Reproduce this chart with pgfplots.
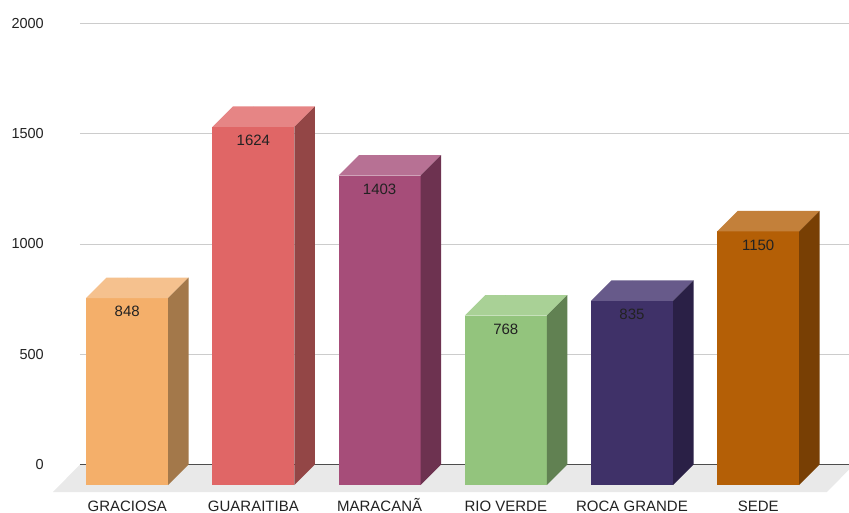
\documentclass[border=0pt]{standalone}
\usepackage{fontspec}
\setmainfont{Liberation Sans}
\usepackage{pgfplots}
\pgfplotsset{compat=1.18}
\usepackage{pgfplotstable}

% front / top / side colours
\definecolor{f0}{HTML}{F4AF6A}\definecolor{t0}{HTML}{F5C18E}\definecolor{s0}{HTML}{A3784A}
\definecolor{f1}{HTML}{E06666}\definecolor{t1}{HTML}{E68585}\definecolor{s1}{HTML}{934646}
\definecolor{f2}{HTML}{A64D79}\definecolor{t2}{HTML}{B77194}\definecolor{s2}{HTML}{6D3250}
\definecolor{f3}{HTML}{93C47D}\definecolor{t3}{HTML}{A9D196}\definecolor{s3}{HTML}{618152}
\definecolor{f4}{HTML}{3F3168}\definecolor{t4}{HTML}{675A8A}\definecolor{s4}{HTML}{2A2046}
\definecolor{f5}{HTML}{B45F06}\definecolor{t5}{HTML}{C3803A}\definecolor{s5}{HTML}{783F04}
\definecolor{floorc}{HTML}{E9E9E9}
\definecolor{gridc}{HTML}{CCCCCC}
\definecolor{zeroc}{HTML}{4D4D4D}
\definecolor{txt}{HTML}{222222}

\pgfplotstableread{
idx value
0 848
1 1624
2 1403
3 768
4 835
5 1150
}\bardata

\begin{document}
\begin{tikzpicture}
\begin{axis}[
  at={(0,0)}, anchor=south west,
  x=126.2bp, y=0.2205bp,
  xmin=-0.374, xmax=5.759, ymin=0, ymax=2000,
  clip=false,
  axis line style={draw=none},
  major tick length=0pt,
  ytick={0,500,1000,1500,2000},
  ymajorgrids, grid style={color=gridc, line width=0.9bp},
  xtick={0,1,2,3,4,5},
  xticklabels={GRACIOSA,GUARAITIBA,MARACANÃ,RIO VERDE,ROCA GRANDE,SEDE},
  x tick label style={anchor=base, yshift=-46.5bp, text=txt, font=\fontsize{15bp}{18bp}\selectfont},
  y tick label style={anchor=east, inner sep=0pt, xshift=-36bp, text=txt, font=\fontsize{14.5bp}{17bp}\selectfont},
  /pgf/number format/assume math mode=true,
  /pgf/number format/1000 sep={},
  scaled y ticks=false,
]
% floor
\fill[floorc] (rel axis cs:0,0) -- (rel axis cs:1,0)
   -- ([xshift=-27bp,yshift=-27.5bp]rel axis cs:1,0)
   -- ([xshift=-27bp,yshift=-27.5bp]rel axis cs:0,0) -- cycle;
\draw[zeroc, line width=1.3bp] (rel axis cs:0,0) -- (rel axis cs:1,0);

% front faces
\addplot[ybar, bar width=82bp, bar shift=0pt, fill=f0, draw=none, yshift=-20.5bp, restrict x to domain=-0.5:0.5, forget plot] table[x=idx,y=value]{\bardata};
\addplot[ybar, bar width=82bp, bar shift=0pt, fill=f1, draw=none, yshift=-20.5bp, restrict x to domain=0.5:1.5, forget plot] table[x=idx,y=value]{\bardata};
\addplot[ybar, bar width=82bp, bar shift=0pt, fill=f2, draw=none, yshift=-20.5bp, restrict x to domain=1.5:2.5, forget plot] table[x=idx,y=value]{\bardata};
\addplot[ybar, bar width=82bp, bar shift=0pt, fill=f3, draw=none, yshift=-20.5bp, restrict x to domain=2.5:3.5, forget plot] table[x=idx,y=value]{\bardata};
\addplot[ybar, bar width=82bp, bar shift=0pt, fill=f4, draw=none, yshift=-20.5bp, restrict x to domain=3.5:4.5, forget plot] table[x=idx,y=value]{\bardata};
\addplot[ybar, bar width=82bp, bar shift=0pt, fill=f5, draw=none, yshift=-20.5bp, restrict x to domain=4.5:5.5, forget plot] table[x=idx,y=value]{\bardata};

% top and side faces, value labels
\addplot[scatter, only marks, mark=*, mark size=0pt,
  mark options={draw=none, fill=none},
  visualization depends on={rawy \as \val},
  visualization depends on={rawx \as \idx},
  scatter/@pre marker code/.code={%
    \pgfmathtruncatemacro\ii{\idx}%
    \pgfmathsetmacro\hh{\val*0.2205}%
    \pgfmathsetmacro\hb{\val*0.2205+20.5}%
    \pgfmathtruncatemacro\vv{\val}%
    \path[fill=t\ii, draw=none] (-41bp,-20.5bp) -- (41bp,-20.5bp) -- (61.5bp,0bp) -- (-20.5bp,0bp) -- cycle;
    \path[fill=s\ii, draw=none] (41bp,-20.5bp) -- (61.5bp,0bp) -- (61.5bp,-\hh bp) -- (41bp,-\hb bp) -- cycle;
    \node[draw=none, text=txt, font=\fontsize{15bp}{18bp}\selectfont] at (0bp,-34bp) {\vv};
  },
  scatter/@post marker code/.code={},
  forget plot] table[x=idx,y=value]{\bardata};
\end{axis}
\pgfresetboundingbox
\path[use as bounding box] (-80bp,-48.5bp) rectangle (769bp,464.5bp);
\end{tikzpicture}
\end{document}
